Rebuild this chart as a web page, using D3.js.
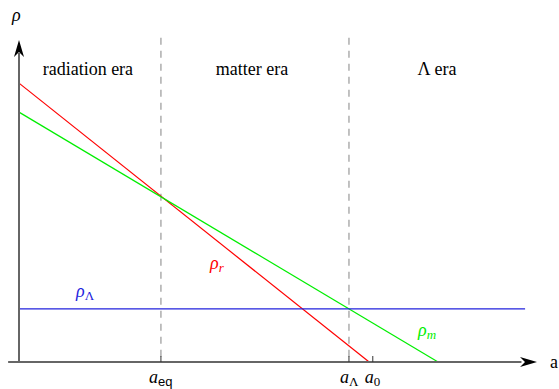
<!DOCTYPE html>
<html><head><meta charset="utf-8">
<script src="https://cdn.jsdelivr.net/npm/d3@7"></script>
<style>body{margin:0;background:#fff}svg{display:block}</style>
</head><body>
<script>
// log a (x) and log rho (y) in arbitrary units
const xDomain = [0, 10];
const yDomain = [0, 10];
const eras = ["radiation era", "matter era", "Λ era"];
const eraCenters = [1.33, 4.5, 8.07];
const boundaries = [2.74, 6.37];          // a_eq, a_Λ
const tickPos = [2.74, 6.37, 6.83];       // a_eq, a_Λ, a_0
const tickNames = ["eq", "Λ", "0"];
const rhoR = [[0, 8.66], [6.76, 0]];
const rhoM = [[0, 7.76], [8.09, 0]];
const rhoL = [[0, 1.65], [9.77, 1.65]];

const W = 559, H = 389;
const svg = d3.select("body").append("svg").attr("width", W).attr("height", H);
const x = d3.scaleLinear().domain(xDomain).range([19, 537]);
const y = d3.scaleLinear().domain(yDomain).range([362, 40]);
const serif = "Liberation Serif, Times New Roman, serif";
const sans = "Liberation Sans, Arial, sans-serif";
const blue = "#2222dd";

// dashed era boundaries
svg.selectAll(".bd").data(boundaries).join("line")
  .attr("x1", d => x(d)).attr("x2", d => x(d))
  .attr("y1", y(10.07)).attr("y2", y(0))
  .attr("stroke", "#999").attr("stroke-width", 1.2)
  .attr("stroke-dasharray", "7,6");

// era labels
svg.selectAll(".era").data(eras).join("text")
  .attr("x", (d, i) => x(eraCenters[i])).attr("y", 75)
  .attr("text-anchor", "middle").style("font-family", serif)
  .style("font-size", "18px").attr("fill", "#000").text(d => d);

const line = d3.line().x(d => x(d[0])).y(d => y(d[1]));
[[rhoR, "#ff0000"], [rhoM, "#00ee00"], [rhoL, blue]].forEach(([d, c]) => {
  svg.append("path").attr("d", line(d)).attr("stroke", c)
    .attr("stroke-width", 1.2).attr("fill", "none");
});

// axes
svg.append("line").attr("x1", x(-0.21)).attr("x2", x(9.7)).attr("y1", y(0)).attr("y2", y(0))
  .attr("stroke", "#666").attr("stroke-width", 2);
svg.append("line").attr("x1", x(0)).attr("x2", x(0)).attr("y1", y(0)).attr("y2", y(9.6))
  .attr("stroke", "#666").attr("stroke-width", 2);
// arrowheads
const xe = x(10), ye = y(0);
svg.append("path").attr("d", `M${xe},${ye} L${xe-17},${ye-5} L${xe-12},${ye} L${xe-17},${ye+5} Z`).attr("fill", "#000");
const xa = x(0), ya = y(10);
svg.append("path").attr("d", `M${xa},${ya} L${xa-5},${ya+17} L${xa},${ya+12} L${xa+5},${ya+17} Z`).attr("fill", "#000");

// ticks
svg.selectAll(".tk").data(tickPos).join("line")
  .attr("x1", d => x(d)).attr("x2", d => x(d))
  .attr("y1", y(0) - 6).attr("y2", y(0))
  .attr("stroke", "#333").attr("stroke-width", 1);

// tick labels
const tl = svg.selectAll(".tl").data(tickPos).join("text")
  .attr("y", 383).style("font-family", serif).style("font-size", "18px")
  .attr("x", (d, i) => x(d) + [-12, -9, -8][i]);
tl.append("tspan").style("font-style", "italic").text("a");
tl.append("tspan").style("font-size", "13px").attr("dy", 3)
  .style("font-family", (d, i) => i === 0 ? sans : serif)
  .text((d, i) => tickNames[i]);

// axis labels
svg.append("text").attr("x", 550).attr("y", 368).style("font-family", serif)
  .style("font-size", "18px").text("a");
svg.append("text").attr("x", 12).attr("y", 21).style("font-family", serif)
  .style("font-style", "italic").style("font-size", "18px").text("ρ");

// series labels
function sublabel(px, py, sub, color) {
  const t = svg.append("text").attr("x", px).attr("y", py).style("font-family", serif)
    .style("font-size", "18px").attr("fill", color);
  t.append("tspan").style("font-style", "italic").text("ρ");
  t.append("tspan").style("font-size", "13px").attr("dy", 3)
    .style("font-style", sub === "Λ" ? "normal" : "italic").text(sub);
}
sublabel(76, 297, "Λ", blue);
sublabel(210, 269, "r", "#ff0000");
sublabel(418, 336, "m", "#00ee00");
</script>
</body></html>
